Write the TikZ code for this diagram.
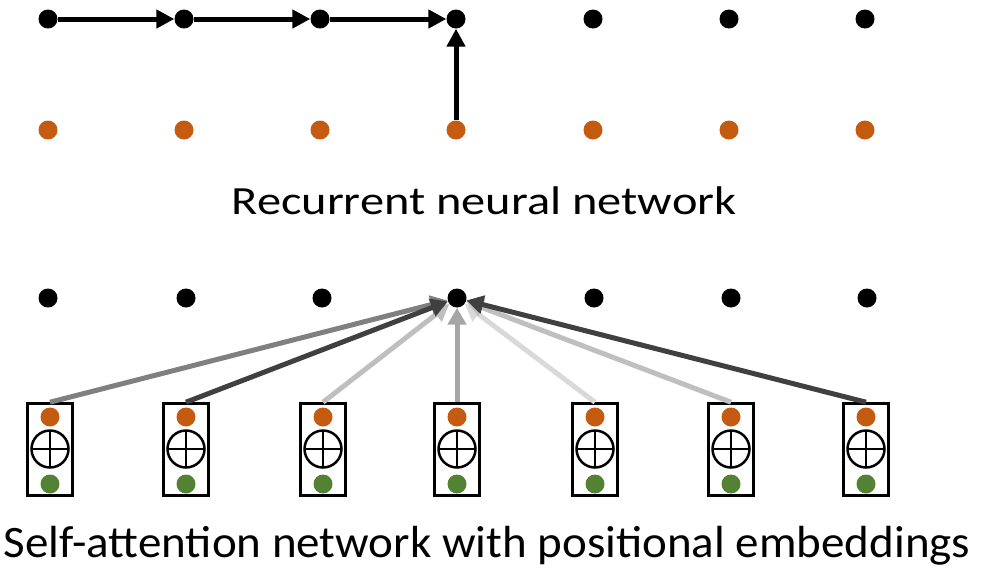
\documentclass[tikz,border=0pt]{standalone}
\usepackage{fontspec}
\setmainfont{Carlito}
\usetikzlibrary{arrows.meta}
\definecolor{rnnorange}{HTML}{C55A11}
\definecolor{posgreen}{HTML}{548235}
\begin{document}
\begin{tikzpicture}[x=1pt,y=-1pt,
  dot/.style={circle,fill=black,inner sep=0pt,minimum size=19pt},
  odot/.style={circle,fill=rnnorange,inner sep=0pt,minimum size=19pt},
  gdot/.style={circle,fill=posgreen,inner sep=0pt,minimum size=19pt},
  plusnode/.style={circle,draw,line width=2.5pt,inner sep=0pt,minimum size=37pt,
    path picture={\draw[line width=2.5pt]
      (path picture bounding box.north) -- (path picture bounding box.south)
      (path picture bounding box.west) -- (path picture bounding box.east);}},
  embbox/.style={draw,line width=2.6pt,inner sep=0pt,minimum width=45pt,minimum height=92pt},
  flow/.style={line width=5pt,-{Triangle[length=18pt,width=18pt]}},
  attn/.style={line width=5pt,-{Triangle[length=17pt,width=18pt]}},
  caption/.style={font=\fontsize{40pt}{48pt}\selectfont,anchor=base,inner sep=0pt}]
\useasboundingbox (0,0) rectangle (981,571);

% recurrent network: hidden states and inputs
\foreach \i/\x in {1/48,2/184,3/320,4/456,5/593,6/729,7/865}{
  \node[dot] (h\i) at (\x,19) {};
  \node[odot] (x\i) at (\x,130) {};
}
\draw[flow] (h1) -- (h2);
\draw[flow] (h2) -- (h3);
\draw[flow] (h3) -- (h4);
\draw[flow] (x4) -- (h4);
\node[caption,xscale=1.21] (rnnlabel) at (484,214) {Recurrent neural network};

% self-attention network: outputs and embedded inputs
\foreach \i/\x in {1/48,2/186,3/322,4/457,5/594,6/731,7/867}{
  \node[dot] (a\i) at (\x,298) {};
}
\foreach \i/\x in {1/50,2/186,3/323,4/457,5/595,6/731,7/866}{
  \node[embbox] (b\i) at (\x,449.5) {};
  \node[odot] (e\i) at (\x,417) {};
  \node[plusnode] (p\i) at (\x,449) {};
  \node[gdot] (g\i) at (\x,484) {};
}
\draw[attn,color=black!15] (b5.north) -- (a4);
\draw[attn,color=black!25] (b3.north) -- (a4);
\draw[attn,color=black!25] (b6.north) -- (a4);
\draw[attn,color=black!50] (b1.north) -- (a4);
\draw[attn,color=black!75] (b2.north) -- (a4);
\draw[attn,color=black!75] (b7.north) -- (a4);
\draw[attn,color=black!35] (b4.north) -- (a4);
\node[caption,font=\fontsize{45pt}{54pt}\selectfont,xscale=1.045] (salabel) at (487,557)
  {Self-attention network with positional embeddings};
\end{tikzpicture}
\end{document}
